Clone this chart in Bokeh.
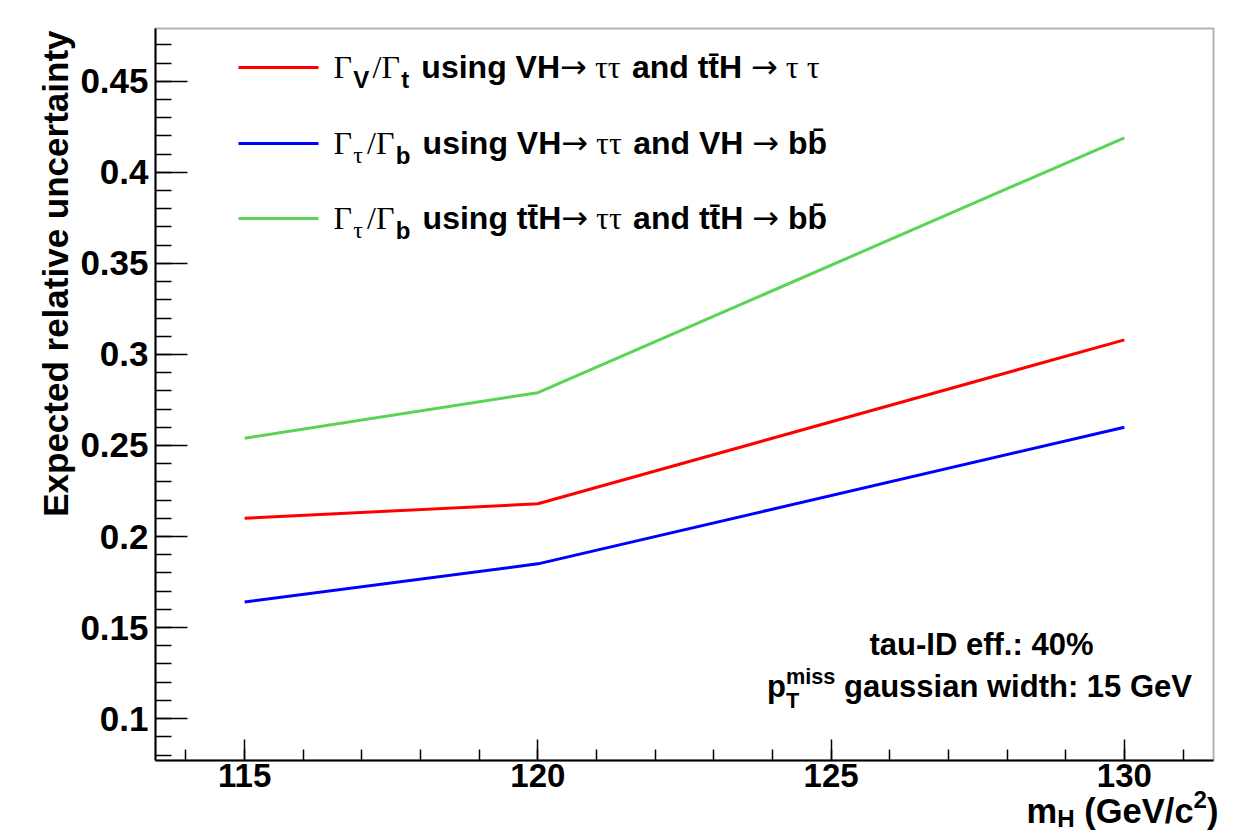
import math
from bokeh.plotting import figure
from bokeh.models import (Range1d, SingleIntervalTicker, NumeralTickFormatter,
                          Label, BoxAnnotation, LinearAxis)
from bokeh.embed import file_html
from bokeh.resources import INLINE

# ---------------- data ----------------
mass = [115, 120, 130]
ratio_vt_vh_tth = [0.210, 0.218, 0.308]      # Gamma_V / Gamma_t
ratio_tb_vh = [0.164, 0.185, 0.260]          # Gamma_tau / Gamma_b (VH)
ratio_tb_tth = [0.254, 0.279, 0.419]         # Gamma_tau / Gamma_b (ttH)
series_colors = ["#FF0000", "#0000FF", "#59D454"]

x_lo, x_hi = 113.48, 131.52
y_lo, y_hi = 0.077, 0.479

x_title = "m"
annot_line1 = "tau-ID eff.: 40%"
annot_line2 = " gaussian width: 15 GeV"
y_title = "Expected relative uncertainty"

# ---------------- layout ----------------
W, H = 1251, 834
FL, FR, FT, FB = 155, 1213, 28, 760      # pixel box of the drawn frame
sx_ = (FR - FL) / (x_hi - x_lo)
sy_ = (FB - FT) / (y_hi - y_lo)

p = figure(width=W, height=H, output_backend="svg", toolbar_location=None,
           title=None, x_axis_location=None, y_axis_location=None,
           x_range=Range1d(x_lo - FL / sx_, x_hi + (W - FR) / sx_),
           y_range=Range1d(y_lo - (H - FB) / sy_, y_hi + FT / sy_),
           min_border=0)
p.background_fill_color = "white"
p.border_fill_color = "white"
p.outline_line_color = None
p.grid.visible = False

SANS = "Liberation Sans"
SERIF = "Liberation Serif"
ARROWF = "DejaVu Sans"

xaxis = LinearAxis(fixed_location=y_lo, bounds=(x_lo, x_hi),
                   ticker=SingleIntervalTicker(interval=5, num_minor_ticks=5))
yaxis = LinearAxis(fixed_location=x_lo, bounds=(y_lo, y_hi),
                   ticker=SingleIntervalTicker(interval=0.05, num_minor_ticks=5),
                   formatter=NumeralTickFormatter(format="0.[00]"))
for ax in (xaxis, yaxis):
    ax.axis_line_color = "black"
    ax.axis_line_width = 2
    ax.major_tick_line_color = "black"
    ax.minor_tick_line_color = "black"
    ax.major_tick_line_width = 1.5
    ax.minor_tick_line_width = 1.5
    ax.major_tick_out = 0
    ax.minor_tick_out = 0
    ax.major_label_text_font = SANS
    ax.major_label_text_font_style = "bold"
    ax.major_label_text_color = "black"
xaxis.major_label_text_font_size = "33px"
yaxis.major_label_text_font_size = "35px"
xaxis.major_tick_in = 21
xaxis.minor_tick_in = 11
xaxis.major_label_standoff = 3
yaxis.major_tick_in = 32
yaxis.minor_tick_in = 16
yaxis.major_label_standoff = 7
p.add_layout(xaxis, "below")
p.add_layout(yaxis, "left")

# frame (top and right edges)
p.add_layout(BoxAnnotation(left=x_lo, right=x_hi, bottom=y_lo, top=y_hi,
                           fill_alpha=0, line_color="black", line_width=2))

# ---------------- lines ----------------
for ys, c in zip([ratio_vt_vh_tth, ratio_tb_vh, ratio_tb_tth], series_colors):
    p.line(mass, ys, line_color=c, line_width=3)

# ---------------- text helpers ----------------
SANS_W = {' ': .278, 'a': .556, 'b': .611, 'c': .556, 'd': .611, 'e': .556,
          'f': .333, 'g': .611, 'h': .611, 'i': .278, 'm': .889, 'n': .611,
          's': .556, 't': .333, 'u': .611, 'w': .778, 'y': .556, 'r': .389,
          'l': .278, 'v': .556, 'p': .611, 'x': .556, 'o': .611, 'D': .722,
          'G': .778, 'H': .722, 'I': .278, 'T': .611, 'V': .667, '(': .333,
          ')': .333, '/': .278, '.': .278, ':': .333, '%': .889, '-': .333,
          '\u0304': 0.0}
SERIF_W = {'\u0393': .62, '\u03c4': .44, '/': .278, ' ': .25}
ARROW_W = {'\u2192': .838, ' ': .318}
TABLES = {"sans": SANS_W, "serif": SERIF_W, "arrow": ARROW_W}
FONTS = {"sans": (SANS, "bold"), "serif": (SERIF, "normal"),
         "arrow": (ARROWF, "normal")}


def text_width(s, fam, size):
    table = TABLES[fam]
    return sum(table.get(ch, .556) for ch in s) * size


def run_width(runs, size):
    w = 0
    for text, fam, k, dy, adv, gap in runs:
        if adv:
            w += text_width(text, fam, size * k) + gap * size
    return w


def place(runs, x0, baseline, size):
    x = x0
    for text, fam, k, dy, adv, gap in runs:
        fs = size * k
        core = text.strip(' ')
        lead = len(text) - len(text.lstrip(' '))
        trail = len(text) - len(text.rstrip(' '))
        sp = TABLES[fam].get(' ', .278) * fs
        xs = x + lead * sp
        base = baseline + dy * size
        mid = base - 0.3465 * fs
        font, style = FONTS[fam]
        p.add_layout(Label(x=xs, y=H - mid, x_units="screen", y_units="screen",
                           text=core, text_font=font, text_font_style=style,
                           text_font_size=f"{fs:.1f}px", text_color="black",
                           text_baseline="middle", text_align="left"))
        if adv:
            x = xs + text_width(core, fam, fs) + trail * sp + gap * size


G = "\u0393"
TAU = "\u03c4"
ARR = "\u2192"
TBAR = "t\u0304"
BBAR = "b\u0304"
SUB = 0.28
SK = 0.75

legend_rows = [
    [(G, "serif", 1, 0, True, 0), ("V", "sans", SK, SUB, True, .1),
     ("/" + G, "serif", 1, 0, True, 0), ("t", "sans", SK, SUB, True, .1),
     (" using VH", "sans", 1, 0, True, 0), (ARR, "arrow", 1, 0, True, 0),
     (" " + TAU + TAU, "serif", 1, 0, True, 0),
     (" and t" + TBAR + "H ", "sans", 1, 0, True, 0),
     (ARR, "arrow", 1, 0, True, 0),
     (" " + TAU + " " + TAU, "serif", 1, 0, True, 0)],
    [(G, "serif", 1, 0, True, 0), (TAU, "serif", SK, SUB, True, .1),
     ("/" + G, "serif", 1, 0, True, 0), ("b", "sans", SK, SUB, True, .1),
     (" using VH", "sans", 1, 0, True, 0), (ARR, "arrow", 1, 0, True, 0),
     (" " + TAU + TAU, "serif", 1, 0, True, 0),
     (" and VH ", "sans", 1, 0, True, 0), (ARR, "arrow", 1, 0, True, 0),
     (" b" + BBAR, "sans", 1, 0, True, 0)],
    [(G, "serif", 1, 0, True, 0), (TAU, "serif", SK, SUB, True, .1),
     ("/" + G, "serif", 1, 0, True, 0), ("b", "sans", SK, SUB, True, .1),
     (" using t" + TBAR + "H", "sans", 1, 0, True, 0),
     (ARR, "arrow", 1, 0, True, 0),
     (" " + TAU + TAU, "serif", 1, 0, True, 0),
     (" and t" + TBAR + "H ", "sans", 1, 0, True, 0),
     (ARR, "arrow", 1, 0, True, 0),
     (" b" + BBAR, "sans", 1, 0, True, 0)],
]
row_line_y = [67, 143, 218]
LEG_SIZE = 32
for runs, ly, c in zip(legend_rows, row_line_y, series_colors):
    p.add_layout(BoxAnnotation(left=238, right=318,
                               bottom=H - ly - 1.5, top=H - ly + 1.5,
                               left_units="screen", right_units="screen",
                               top_units="screen", bottom_units="screen",
                               fill_color=c, fill_alpha=1.0, line_alpha=0))
    place(runs, 333, ly + 11, LEG_SIZE)

# annotation
ANN = 31
r1 = [(annot_line1, "sans", 1, 0, True, 0)]
place(r1, 981 - run_width(r1, ANN) / 2, 655, ANN)
r2 = [("p", "sans", 1, 0, True, 0), ("T", "sans", .7, SUB + 0.05, False, 0),
      ("miss", "sans", .7, -0.45, True, 0), (annot_line2, "sans", 1, 0, True, 0)]
place(r2, 979 - run_width(r2, ANN) / 2, 697, ANN)

# x axis title
XT = 34.5
rx = [(x_title, "sans", 1, 0, True, 0), ("H", "sans", .7, 0.12, True, 0),
      (" (GeV/c", "sans", 1, 0, True, 0), ("2", "sans", .7, -0.42, True, 0),
      (")", "sans", 1, 0, True, 0)]
place(rx, 1218 - run_width(rx, XT), 822, XT)

# y axis title (reads bottom to top, ends near the top of the frame)
YT = 35
p.add_layout(Label(x=67 - 0.3465 * YT, y=H - 30, x_units="screen", y_units="screen",
                   text=y_title, angle=math.pi / 2, text_font=SANS,
                   text_font_style="bold", text_font_size=f"{YT}px",
                   text_color="black", text_align="right",
                   text_baseline="middle"))

open("out.html", "w").write(file_html(p, INLINE))
